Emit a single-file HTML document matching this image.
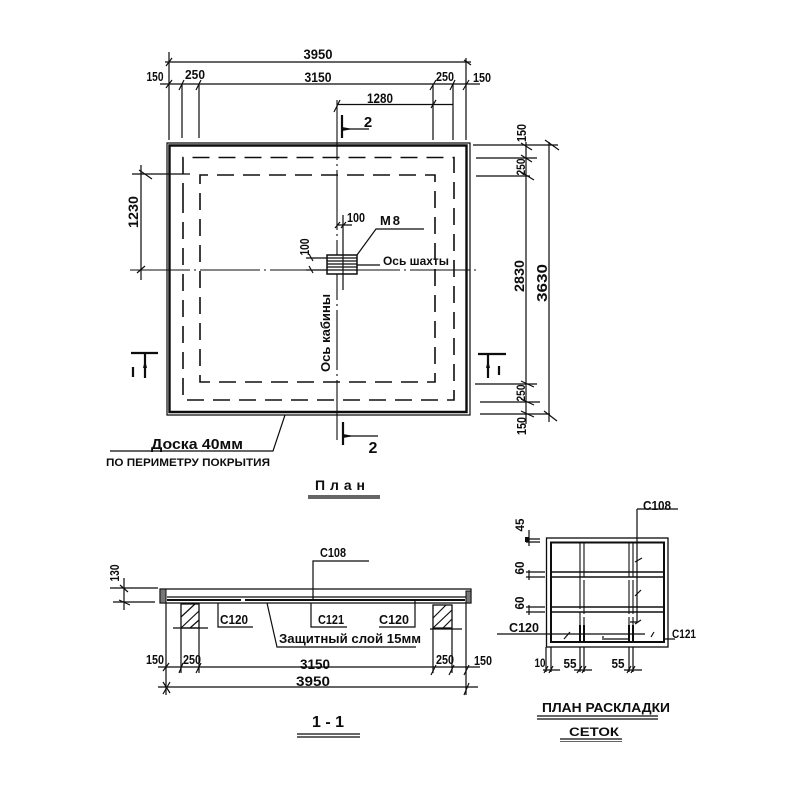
<!DOCTYPE html>
<html><head><meta charset="utf-8"><style>
html,body{margin:0;padding:0;background:#fff}
svg{display:block}
text{font-family:"Liberation Sans","DejaVu Sans",sans-serif;font-weight:bold;fill:#111;text-anchor:middle}
.l{stroke:#111;stroke-width:1.200;fill:none}
.b{stroke:#111;stroke-width:2.200;fill:none}
.d{stroke:#111;stroke-width:1.600;fill:none;stroke-dasharray:17 9}
.c{stroke:#111;stroke-width:1.100;fill:none;stroke-dasharray:60 4 2 4}
</style></head><body>
<svg width="800" height="800" viewBox="0 0 800 800" xmlns="http://www.w3.org/2000/svg">
<defs><filter id="s" x="0" y="0" width="100%" height="100%"><feGaussianBlur stdDeviation="0.35"/></filter></defs>
<rect width="800" height="800" fill="#fff"/>
<g filter="url(#s)">
<!-- plan -->
<path class="l" d="M167 143H470V415H167Z"/>
<path d="M169.500 145.500H466.500V412H169.500Z" fill="none" stroke="#111" stroke-width="2.400"/>
<path class="d" d="M183 200V157.500H454V400H183V200"/>
<path class="d" d="M200 210V175H435V382H200V210"/>
<!-- top dims -->
<path class="l" d="M165 62H471M160 84H480M337 104.500H453"/>
<path class="l" d="M169 52V140M182 84V138M199 84V138M433 84V140M453 84V140M466 58V140"/>
<path class="l" d="M166 66L172 58M166 88L172 80M179 90L184 80M196 90L201 80M430 90L436 80M450 90L455 80M463 90L469 80M464 60L471 65M334 112L340 100M431 108L436 100"/>
<!-- centre lines -->
<path class="c" d="M337 100V440"/>
<path class="c" d="M130 270H480"/>
<!-- section 2 -->
<path class="b" d="M342 115V138"/><path class="l" d="M342 129H369"/><path d="M342 127L353 129L342 131Z" fill="#111"/>
<text x="368" y="127" font-size="15" font-weight="normal">2</text>
<path class="b" d="M343 422V445"/><path class="l" d="M343 436H378"/><path d="M343 434L354 436L343 438Z" fill="#111"/>
<text x="373" y="453" font-size="16" font-weight="normal">2</text>
<!-- section 1 -->
<path class="b" d="M131 353H158M478 354H506"/>
<path class="b" d="M145 354V378M488 355V378"/>
<path d="M145 360L143 368H147Z M488 360L486 368H490Z" fill="#111"/>
<path class="b" d="M133 367V377M499 366V375"/>
<!-- left dim -->
<path class="l" d="M132 174H190M141 165V280"/>
<path class="l" d="M139 170L152 179M137 273L145 266"/>
<text transform="translate(138 212) rotate(-90)" font-size="14" font-weight="normal" textLength="32" lengthAdjust="spacingAndGlyphs">1230</text>
<!-- right dims -->
<path class="l" d="M473 145H558M476 158H537M476 176H530M475 384H537M480 402H540M480 414H550M526 142V424M549 142V422"/>
<path class="l" d="M521 143L532 150M521 155L532 162M521 172L534 180M521 381L534 387M521 399L534 405M521 411L534 417M545 140L559 150M544 411L557 421"/>
<text transform="translate(526 133) rotate(-90)" font-size="13" textLength="18" lengthAdjust="spacingAndGlyphs">150</text>
<text transform="translate(525 167) rotate(-90)" font-size="12" textLength="17" lengthAdjust="spacingAndGlyphs">250</text>
<text transform="translate(524 276) rotate(-90)" font-size="14" textLength="32" lengthAdjust="spacingAndGlyphs">2830</text>
<text transform="translate(547 283) rotate(-90)" font-size="15" textLength="38" lengthAdjust="spacingAndGlyphs">3630</text>
<text transform="translate(525 393) rotate(-90)" font-size="12" textLength="17" lengthAdjust="spacingAndGlyphs">250</text>
<text transform="translate(526 426) rotate(-90)" font-size="13" textLength="18" lengthAdjust="spacingAndGlyphs">150</text>
<!-- top labels -->
<text x="318" y="59" font-size="14" textLength="29" lengthAdjust="spacingAndGlyphs">3950</text>
<text x="318" y="82" font-size="14" textLength="27" lengthAdjust="spacingAndGlyphs">3150</text>
<text x="155" y="81" font-size="13" textLength="17" lengthAdjust="spacingAndGlyphs">150</text>
<text x="195" y="79" font-size="13" textLength="20" lengthAdjust="spacingAndGlyphs">250</text>
<text x="445" y="81" font-size="13" textLength="18" lengthAdjust="spacingAndGlyphs">250</text>
<text x="482" y="82" font-size="13" textLength="18" lengthAdjust="spacingAndGlyphs">150</text>
<text x="380" y="103" font-size="14" textLength="26" lengthAdjust="spacingAndGlyphs">1280</text>
<!-- shaft -->
<rect x="327" y="255" width="30" height="19" fill="#fff" stroke="#111" stroke-width="1.500"/>
<path class="l" d="M327 258H357M327 261H357M327 264H357M327 267H357M327 270H357"/>
<path class="l" d="M343 215V290M337 225H352M335 228L340 222M341 228L346 222M306 258H327M306 270H327M309 254L313 261M309 266L313 273"/>
<path class="l" d="M357 255L376 229H424M357 265H380"/>
<text x="390" y="225" font-size="13" textLength="20">М8</text>
<text x="356" y="222" font-size="13" textLength="18" lengthAdjust="spacingAndGlyphs">100</text>
<text transform="translate(309 247) rotate(-90)" font-size="13" textLength="17" lengthAdjust="spacingAndGlyphs">100</text>
<text x="416" y="265" font-size="12" textLength="66" lengthAdjust="spacingAndGlyphs">Ось шахты</text>
<text transform="translate(330 333) rotate(-90)" font-size="13" textLength="78" lengthAdjust="spacingAndGlyphs">Ось кабины</text>
<!-- board note -->
<path class="l" d="M110 451H273L285 415"/>
<text x="197" y="449" font-size="15" font-weight="normal" textLength="92" lengthAdjust="spacingAndGlyphs">Доска 40мм</text>
<text x="188" y="466" font-size="11" textLength="164" lengthAdjust="spacingAndGlyphs">ПО ПЕРИМЕТРУ ПОКРЫТИЯ</text>
<text x="340" y="490" font-size="14" textLength="50" lengthAdjust="spacing">План</text>
<path d="M308 496H380M308 498H380" stroke="#111" stroke-width="1.300" fill="none"/>
<!-- section 1-1 -->
<path d="M160 589H471V603H160Z" fill="none" stroke="#111" stroke-width="1.200"/>
<rect x="160" y="589" width="6" height="14" fill="#777" stroke="#111"/>
<rect x="466" y="591" width="5" height="12" fill="#777" stroke="#111"/>
<path d="M167 597H466" stroke="#111" stroke-width="1.200"/>
<path d="M167 600H465" stroke="#111" stroke-width="2"/>
<path d="M241 600.500H245" stroke="#fff" stroke-width="3"/>
<rect x="181" y="604" width="18" height="24" fill="#fff" stroke="#111" stroke-width="1.300"/>
<path class="l" d="M181 617L195 604M181 628L199 611M190 628L199 620"/>
<rect x="433" y="605" width="19" height="23" fill="#fff" stroke="#111" stroke-width="1.300"/>
<path class="l" d="M433 618L446 605M433 628L452 610M443 628L452 619"/>
<path class="l" d="M173 628H208M430 629H462"/>
<path class="l" d="M166 603V695M181 628V673M199 628V673M433 628V673M452 628V673M466 603V695"/>
<path class="l" d="M158 667H480M158 687H478"/>
<path class="l" d="M163 671L169 663M179 673L183 663M196 673L201 663M431 675L436 665M449 675L454 665M464 675L469 665M163 682L170 693M163 694L170 682M464 695L469 683"/>
<path class="l" d="M110 588H158M113 602H155M124 578V610M120 585L128 592M119 600L130 605"/>
<text transform="translate(119 573) rotate(-90)" font-size="13" textLength="17" lengthAdjust="spacingAndGlyphs">130</text>
<path class="l" d="M313 600V561H369M311 603V627H347M218 603V627H253M415 600V627H379M267 603L277 647H416"/>
<text x="333" y="557" font-size="13" textLength="26" lengthAdjust="spacingAndGlyphs">С108</text>
<text x="234" y="624" font-size="13" textLength="28" lengthAdjust="spacingAndGlyphs">С120</text>
<text x="331" y="624" font-size="13" textLength="26" lengthAdjust="spacingAndGlyphs">С121</text>
<text x="394" y="624" font-size="13" textLength="30" lengthAdjust="spacingAndGlyphs">С120</text>
<text x="350" y="643" font-size="13" textLength="142" lengthAdjust="spacingAndGlyphs">Защитный слой 15мм</text>
<text x="155" y="664" font-size="13" textLength="18" lengthAdjust="spacingAndGlyphs">150</text>
<text x="192" y="664" font-size="13" textLength="18" lengthAdjust="spacingAndGlyphs">250</text>
<text x="315" y="669" font-size="14" textLength="30" lengthAdjust="spacingAndGlyphs">3150</text>
<text x="313" y="686" font-size="14" textLength="34" lengthAdjust="spacingAndGlyphs">3950</text>
<text x="445" y="664" font-size="13" textLength="18" lengthAdjust="spacingAndGlyphs">250</text>
<text x="483" y="665" font-size="13" textLength="18" lengthAdjust="spacingAndGlyphs">150</text>
<text x="328" y="727" font-size="16" font-weight="normal" textLength="32" lengthAdjust="spacingAndGlyphs">1 - 1</text>
<path d="M297 734H360M297 737H360" stroke="#111" stroke-width="1.300" fill="none"/>
<!-- mesh plan -->
<rect x="546.500" y="538" width="121.500" height="109" fill="none" stroke="#111" stroke-width="1.300"/>
<path d="M551 542.500H664V642H551Z" fill="none" stroke="#111" stroke-width="2"/>
<path d="M551 572H664M551 577H664M551 607H664M551 612H664" stroke="#111" stroke-width="1.600" fill="none"/>
<path d="M580 543V575M580 575V641M584 543V641M629 543V641M633 543V641" stroke="#111" stroke-width="1.100" fill="none" stroke-dasharray="34 3"/>
<path d="M580 625V642M584 625V642M629 625V642M633 625V642" stroke="#111" stroke-width="2" fill="none"/>
<path d="M583 642H627" stroke="#fff" stroke-width="0"/>
<path d="M637 509V622H630M637 509H678" class="l"/>
<path class="l" d="M497 634H580M540 634H645M603 640V636M664 639H675M604 639H628"/>
<path class="l" d="M635 562L642 558M635 596L641 590M635 624L641 620M564 639L570 632M651 637L654 632"/>
<path class="l" d="M526 539H540M526 542H540M526 572H545M526 577H545M526 607H545M526 612H545M529 530V546M529 570V580M529 605V615"/>
<rect x="525" y="537" width="4" height="5" fill="#111"/>
<path class="l" d="M546 647V672M551 647V672M580 647V672M584 647V672M629 647V672M633 647V672M543 670H560M574 670H592M624 670H642"/>
<path class="l" d="M544 673L548 666M549 673L553 666M577 673L582 666M582 673L586 666M627 673L631 666M631 673L635 666"/>
<text transform="translate(524 525) rotate(-90)" font-size="12" textLength="13" lengthAdjust="spacingAndGlyphs">45</text>
<text transform="translate(524 568) rotate(-90)" font-size="13" textLength="13" lengthAdjust="spacingAndGlyphs">60</text>
<text transform="translate(524 603) rotate(-90)" font-size="13" textLength="13" lengthAdjust="spacingAndGlyphs">60</text>
<text x="524" y="632" font-size="13" textLength="30" lengthAdjust="spacingAndGlyphs">С120</text>
<text x="684" y="638" font-size="12" textLength="24" lengthAdjust="spacingAndGlyphs">С121</text>
<text x="657" y="510" font-size="13" textLength="28" lengthAdjust="spacingAndGlyphs">С108</text>
<text x="540" y="667" font-size="12" textLength="11" lengthAdjust="spacingAndGlyphs">10</text>
<text x="570" y="668" font-size="13" textLength="13" lengthAdjust="spacingAndGlyphs">55</text>
<text x="618" y="668" font-size="13" textLength="13" lengthAdjust="spacingAndGlyphs">55</text>
<text x="606" y="712" font-size="13" textLength="128" lengthAdjust="spacingAndGlyphs">ПЛАН РАСКЛАДКИ</text>
<path d="M537 716H658M537 719H658" stroke="#111" stroke-width="1.300" fill="none"/>
<text x="594" y="736" font-size="12" textLength="50" lengthAdjust="spacingAndGlyphs">СЕТОК</text>
<path d="M560 739H622M560 742H622" stroke="#111" stroke-width="1.300" fill="none"/>
</g>
</svg>
</body></html>
